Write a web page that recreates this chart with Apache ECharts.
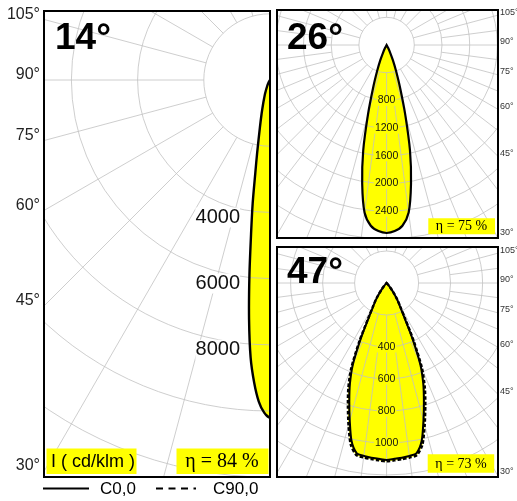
<!DOCTYPE html>
<html><head><meta charset="utf-8">
<script src="https://cdn.jsdelivr.net/npm/echarts@6/dist/echarts.min.js"></script>
<style>html,body{margin:0;padding:0;background:#fff}#c{width:517px;height:501px}</style>
</head><body><div id="c"></div>
<script>
// ---------------- data ----------------
const panelTitles = ['14°', '26°', '47°'];
const efficiency = ['η = 84 %', 'η = 75 %', 'η = 73 %'];
const unitLabel = 'I ( cd/klm )';
const legendNames = ['C0,0', 'C90,0'];
const angleTicks = [105, 90, 75, 60, 45, 30];

// 14° beam (cd/klm vs angle from nadir)
const angles14 = [0, 1, 2, 3, 4, 5, 6, 7, 8, 9, 10, 12, 14, 16, 18, 20, 25, 30, 35, 40];
const c0_14 = [10200, 10050, 9720, 9150, 8400, 7260, 5950, 4700, 3760, 2830, 2240, 1470, 1050, 760, 560, 440, 200, 80, 20, 0];

// 26° beam
const angles26 = [0, 2.5, 5, 7.5, 10, 12.5, 15, 17.5, 20, 22.5, 25, 27.5, 30, 35];
const c0_26 = [2715, 2690, 2620, 2440, 2030, 1560, 1040, 650, 400, 240, 120, 50, 15, 0];

// 47° beam
const angles47 = [0, 2.5, 5, 7.5, 10, 12.5, 15, 17.5, 20, 22.5, 25, 27.5, 30, 32.5, 35, 37.5, 40, 45, 50];
const c0_47 = [1106, 1100, 1096, 1090, 1079, 1012, 890, 775, 670, 550, 380, 235, 165, 125, 85, 50, 25, 5, 0];
const c90_47 = [1115, 1110, 1105, 1100, 1092, 1035, 920, 805, 700, 580, 405, 250, 173, 128, 87, 51, 25, 5, 0];

// ring steps and labelled rings
const ringStep = [2000, 400, 200];
const ringLabels14 = [4000, 6000, 8000];
const ringLabels26 = [800, 1200, 1600, 2000, 2400];
const ringLabels47 = [400, 600, 800, 1000];

// ---------------- layout ----------------
const panels = [
  {left: 44, top: 11, width: 226, height: 466, cx: 270, cy: 80, s: 0.0331, fine: false, side: 'left'},
  {left: 277, top: 10, width: 221, height: 228, cx: 386.6, cy: 45, s: 0.06925, fine: true, side: 'right'},
  {left: 277, top: 247, width: 221, height: 230, cx: 386.6, cy: 283, s: 0.16, fine: true, side: 'right'}
];
panels.forEach(p => {
  p.xmin = (p.left - p.cx) / p.s;
  p.xmax = (p.left + p.width - p.cx) / p.s;
  p.ymax = (p.cy - p.top) / p.s;
  p.ymin = (p.cy - p.top - p.height) / p.s;
  p.rmax = Math.hypot(Math.max(-p.xmin, p.xmax), Math.max(p.ymax, -p.ymin));
});

function outline(angles, vals) {
  const pts = [];
  for (let k = angles.length - 1; k >= 0; k--) {
    const a = angles[k] * Math.PI / 180;
    pts.push([vals[k] * Math.sin(a), -vals[k] * Math.cos(a)]);
  }
  for (let k = 1; k < angles.length; k++) {
    const a = angles[k] * Math.PI / 180;
    pts.push([-vals[k] * Math.sin(a), -vals[k] * Math.cos(a)]);
  }
  return pts;
}

const FONT = '"Liberation Sans", Arial, sans-serif';
const SERIF = '"Liberation Serif", "Times New Roman", serif';
const GRIDC = '#c2c2c2';
const YEL = '#ffff00';

function gridSeries(i) {
  const p = panels[i], step = ringStep[i];
  return {
    type: 'custom', xAxisIndex: i, yAxisIndex: i, clip: true, z: 2, silent: true, data: [0],
    renderItem(params, api) {
      const c = api.coord([0, 0]);
      const ch = [];
      for (let r = step; r <= p.rmax + step; r += step) {
        const rp = api.size([r, 0])[0];
        ch.push({type: 'circle', shape: {cx: c[0], cy: c[1], r: rp},
          style: {fill: 'none', stroke: GRIDC, lineWidth: 0.8}});
      }
      const R = p.rmax + step;
      const addLine = (deg, r0) => {
        const a = deg * Math.PI / 180;
        const p0 = api.coord([r0 * Math.sin(a), -r0 * Math.cos(a)]);
        const p1 = api.coord([R * Math.sin(a), -R * Math.cos(a)]);
        ch.push({type: 'line', shape: {x1: p0[0], y1: p0[1], x2: p1[0], y2: p1[1]},
          style: {stroke: GRIDC, lineWidth: 0.8}});
      };
      for (let d = 0; d < 360; d += 15) addLine(d, step);
      if (p.fine) for (let d = 7.5; d < 360; d += 15) addLine(d, 2 * step);
      return {type: 'group', children: ch};
    }
  };
}

function shapeSeries(i, curves, mode, z) {
  return {
    type: 'custom', xAxisIndex: i, yAxisIndex: i, clip: true, z: z, silent: true, data: [0],
    renderItem(params, api) {
      return {type: 'group', children: curves.map(cv => ({
        type: 'polygon',
        shape: {points: cv.pts.map(q => api.coord(q)), smooth: 0.25},
        style: mode === 'fill' ? {fill: YEL, stroke: 'none'} :
          {fill: 'none', stroke: '#000', lineWidth: cv.w || 2.2, lineDash: cv.dash || null}
      }))};
    }
  };
}

function labelSeries(i, rings) {
  const p = panels[i];
  return {
    type: 'custom', xAxisIndex: i, yAxisIndex: i, clip: false, z: 5, silent: true, data: [0],
    renderItem(params, api) {
      const ch = [];
      rings.forEach(r => {
        const q = api.coord([0, -r]);
        if (p.side === 'left') {
          ch.push({type: 'text', x: q[0] - 30, y: q[1] + 5,
            style: {text: String(r), font: '20px ' + FONT, fill: '#111', align: 'right', verticalAlign: 'middle',
              textAlign: 'right', textVerticalAlign: 'middle', backgroundColor: '#fff'}});
        } else {
          ch.push({type: 'text', x: q[0], y: q[1],
            style: {text: String(r), font: '10.5px ' + FONT, fill: '#111', align: 'center', verticalAlign: 'middle',
              textAlign: 'center', textVerticalAlign: 'middle', backgroundColor: YEL, padding: [0, 1]}});
        }
      });
      angleTicks.forEach(d => {
        const a = d * Math.PI / 180;
        if (p.side === 'left') {
          const y = p.xmin * Math.cos(a) / Math.sin(a);
          const q = api.coord([p.xmin, y]);
          let ty = Math.min(Math.max(q[1] - 5, p.top + 4), p.top + p.height - 11);
          ch.push({type: 'text', x: p.left - 4, y: ty,
            style: {text: d + '°', font: '16px ' + FONT, fill: '#222', align: 'right', verticalAlign: 'middle',
              textAlign: 'right', textVerticalAlign: 'middle'}});
        } else {
          const y = -p.xmax * Math.cos(a) / Math.sin(a);
          const q = api.coord([p.xmax, y]);
          let ty = Math.min(Math.max(q[1] - 3, p.top + 3), p.top + p.height - 5);
          ch.push({type: 'text', x: p.left + p.width + 2, y: ty,
            style: {text: d + '°', font: '9px ' + FONT, fill: '#333', align: 'left', verticalAlign: 'middle',
              textAlign: 'left', textVerticalAlign: 'middle'}});
        }
      });
      return {type: 'group', children: ch};
    }
  };
}

const pts14 = outline(angles14, c0_14);
const pts26 = outline(angles26, c0_26);
const pts47a = outline(angles47, c0_47);
const pts47b = outline(angles47, c90_47);

const series = [
  shapeSeries(0, [{pts: pts14}], 'fill', 1),
  gridSeries(0),
  shapeSeries(0, [{pts: pts14, w: 2.4}], 'stroke', 3),
  labelSeries(0, ringLabels14),

  shapeSeries(1, [{pts: pts26}], 'fill', 1),
  gridSeries(1),
  shapeSeries(1, [{pts: pts26, w: 2.2}], 'stroke', 3),
  labelSeries(1, ringLabels26),

  shapeSeries(2, [{pts: pts47b}, {pts: pts47a}], 'fill', 1),
  gridSeries(2),
  shapeSeries(2, [{pts: pts47b, w: 2.4, dash: [3.5, 2]}, {pts: pts47a, w: 2}], 'stroke', 3),
  labelSeries(2, ringLabels47)
];

function textEl(x, y, text, font, align, extra) {
  return Object.assign({type: 'text', x: x, y: y, z: 50,
    style: {text: text, font: font, fill: '#000', align: align, verticalAlign: 'middle',
      textAlign: align, textVerticalAlign: 'middle'}}, extra || {});
}
function boxEl(x, y, w, h) {
  return {type: 'rect', z: 49, shape: {x: x, y: y, width: w, height: h}, style: {fill: YEL, stroke: 'none'}};
}

const graphic = [
  textEl(55, 39, panelTitles[0], 'bold 37px ' + FONT, 'left'),
  textEl(287, 39, panelTitles[1], 'bold 37px ' + FONT, 'left'),
  textEl(287, 273, panelTitles[2], 'bold 37px ' + FONT, 'left'),
  boxEl(46.5, 448.5, 90, 25.5),
  textEl(51, 462, unitLabel, '18px ' + FONT, 'left'),
  boxEl(176.5, 448.5, 92, 25.5),
  textEl(222, 462, efficiency[0], '20px ' + SERIF, 'center'),
  boxEl(428.3, 218.3, 66.7, 16),
  textEl(461.5, 226.8, efficiency[1], '14px ' + SERIF, 'center'),
  boxEl(427.7, 454.3, 66.5, 18.4),
  textEl(461, 464, efficiency[2], '14px ' + SERIF, 'center'),
  // legend
  {type: 'line', z: 50, shape: {x1: 43, y1: 488.5, x2: 89, y2: 488.5}, style: {stroke: '#000', lineWidth: 2}},
  textEl(100, 489.5, legendNames[0], '17px ' + FONT, 'left'),
  {type: 'line', z: 50, shape: {x1: 156, y1: 488.5, x2: 196, y2: 488.5}, style: {stroke: '#000', lineWidth: 2, lineDash: [7, 5.5]}},
  textEl(213, 489.5, legendNames[1], '17px ' + FONT, 'left')
];

const chart = echarts.init(document.getElementById('c'), null, {renderer: 'canvas', width: 517, height: 501});
chart.setOption({
  animation: false,
  grid: panels.map(p => ({left: p.left, top: p.top, width: p.width, height: p.height,
    show: true, borderColor: '#000', borderWidth: 2, backgroundColor: 'transparent', z: 10})),
  xAxis: panels.map((p, i) => ({type: 'value', gridIndex: i, min: p.xmin, max: p.xmax, show: false})),
  yAxis: panels.map((p, i) => ({type: 'value', gridIndex: i, min: p.ymin, max: p.ymax, show: false})),
  series: series,
  graphic: graphic
});
</script>
</body></html>
